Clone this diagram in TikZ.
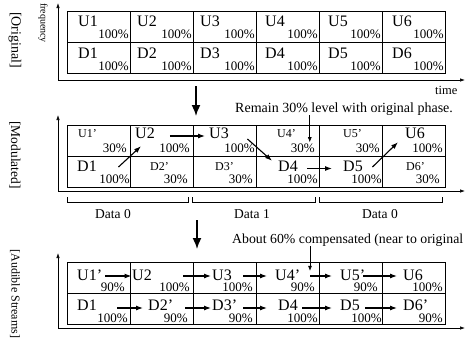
\documentclass[tikz,border=0pt]{standalone}
\usepackage{fontspec}
\setmainfont{Liberation Serif}
\usetikzlibrary{arrows.meta}
\begin{document}
\begin{tikzpicture}[x=1pt,y=-1pt,
  lbl/.style={inner sep=0pt,text height=8pt,text depth=0pt,anchor=base west,font=\fontsize{16}{16}\selectfont},
  slbl/.style={lbl,font=\fontsize{12}{12}\selectfont},
  pct/.style={inner sep=0pt,anchor=base east,font=\fontsize{13}{13}\selectfont},
  cellline/.style={line width=1pt},
  axis/.style={line width=0.7pt,{Latex[length=5pt,width=3.5pt]}-{Latex[length=5pt,width=3.5pt]}},
  arr/.style={line width=1.1pt,-{Latex[length=7pt,width=5pt]}},
  bigarr/.style={line width=1.6pt,-{Latex[length=11pt,width=9pt]}},
  note/.style={line width=0.6pt,-{Latex[length=5pt,width=4pt]}},
  txt/.style={inner sep=0pt,font=\fontsize{14}{14}\selectfont},
  side/.style={inner sep=0pt,rotate=-90,anchor=center},
  brk/.style={line width=0.6pt}]
\useasboundingbox (0,0) rectangle (466,338);

% ---------- grids ----------
\foreach \t in {11,125,262}{
  \draw[cellline] (67,\t) rectangle (445,\t+62);
  \draw[cellline] (67,\t+31) -- (445,\t+31);
  \foreach \x in {130,193,256,319,382}{\draw[cellline] (\x,\t) -- (\x,\t+62);}
}

% ---------- axes ----------
\draw[axis] (58,3) -- (58,80) -- (465,80);
\draw[axis] (58,115) -- (58,191) -- (465,191);
\draw[axis] (58,253) -- (58,328) -- (465,328);

% ---------- side labels ----------
\node[side,font=\fontsize{14}{14}\selectfont] (sOrig) at (15,40) {[Original]};
\node[side,font=\fontsize{13.5}{14}\selectfont] (sMod) at (15,155) {[Modulated]};
\node[side,font=\fontsize{12}{12}\selectfont] (sAud) at (15,294) {[Audible Streams]};
\node[side,font=\fontsize{10}{10}\selectfont] (freq) at (43,23) {frequency};
\node[inner sep=0pt,anchor=base west,font=\fontsize{12.5}{13}\selectfont] (time) at (435,94) {time};

% ---------- panel 1: original ----------
\foreach \i/\ux/\r in {1/78/129,2/137/192,3/200/255,4/265/318,5/328/381,6/392/444}{
  \node[lbl] (p1u\i) at (\ux,26) {U\i};
  \node[pct] (p1pu\i) at (\r,38) {100\%};
  \node[lbl] (p1d\i) at (\ux,58) {D\i};
  \node[pct] (p1pd\i) at (\r,70) {100\%};
}

% ---------- panel 2: modulated ----------
\node[slbl] (p2u1) at (78,137) {U1'};
\node[lbl]  (p2u2) at (135,138) {U2};
\node[lbl]  (p2u3) at (209,138) {U3};
\node[slbl] (p2u4) at (277,137) {U4'};
\node[slbl] (p2u5) at (343,137) {U5'};
\node[lbl]  (p2u6) at (405,138) {U6};
\node[pct] (p2pu1) at (127,152) {30\%};
\node[pct] (p2pu2) at (190,152) {100\%};
\node[pct] (p2pu3) at (255,152) {100\%};
\node[pct] (p2pu4) at (315,152) {30\%};
\node[pct] (p2pu5) at (380,152) {30\%};
\node[pct] (p2pu6) at (443,152) {100\%};
\node[lbl]  (p2d1) at (77,171) {D1};
\node[slbl] (p2d2) at (150,170) {D2'};
\node[slbl] (p2d3) at (215,170) {D3'};
\node[lbl]  (p2d4) at (278,171) {D4};
\node[lbl]  (p2d5) at (343,171) {D5};
\node[slbl] (p2d6) at (406,170) {D6'};
\node[pct] (p2pd1) at (130,183) {100\%};
\node[pct] (p2pd2) at (188,183) {30\%};
\node[pct] (p2pd3) at (253,183) {30\%};
\node[pct] (p2pd4) at (318,183) {100\%};
\node[pct] (p2pd5) at (382,183) {100\%};
\node[pct] (p2pd6) at (440,183) {30\%};

\draw[arr] ([xshift=21.5pt]p2d1.east) -- ([xshift=6pt,yshift=-8pt]p2u2.south west);
\draw[arr] ([xshift=15pt,yshift=-2pt]p2u2.east) -- ([xshift=-4pt,yshift=-2pt]p2u3.west);
\draw[arr] ([xshift=18.5pt,yshift=-5pt]p2u3.east) -- ([xshift=-6pt,yshift=2pt]p2d4.north west);
\draw[arr] ([xshift=9.5pt,yshift=-1.5pt]p2d4.east) -- ([xshift=-11pt,yshift=-1.5pt]p2d5.west);
\draw[arr] ([xshift=9.5pt]p2d5.east) -- ([xshift=-7pt,yshift=-4pt]p2u6.south west);

% brackets and data labels
\draw[brk] (67,197) -- (67,202) -- (188,202) -- (188,197);
\draw[brk] (192,197) -- (192,202) -- (315,202) -- (315,197);
\draw[brk] (319,197) -- (319,202) -- (442,202) -- (442,197);
\node[inner sep=0pt,anchor=base,font=\fontsize{13.5}{14}\selectfont] (data1) at (113,218) {Data 0};
\node[inner sep=0pt,anchor=base,font=\fontsize{13.5}{14}\selectfont] (data2) at (252,218) {Data 1};
\node[inner sep=0pt,anchor=base,font=\fontsize{13.5}{14}\selectfont] (data3) at (380,218) {Data 0};

% annotation 1
\node[txt,anchor=base west] (rem) at (235,112) {Remain 30\% level with original phase.};
\coordinate (t1) at ([xshift=19pt,yshift=1pt]p2pu4.north west);
\draw[note] (rem.south -| t1) -- (t1);

% ---------- panel 3: audible streams ----------
\node[lbl] (p3u1) at (77,280) {U1'};
\node[lbl] (p3u2) at (132,280) {U2};
\node[lbl] (p3u3) at (212,280) {U3};
\node[lbl] (p3u4) at (275,280) {U4'};
\node[lbl] (p3u5) at (340,280) {U5'};
\node[lbl] (p3u6) at (403,280) {U6};
\node[pct] (p3pu1) at (125,291.5) {90\%};
\node[pct] (p3pu2) at (190,291.5) {100\%};
\node[pct] (p3pu3) at (253,291.5) {100\%};
\node[pct] (p3pu4) at (315,291.5) {90\%};
\node[pct] (p3pu5) at (378,291.5) {90\%};
\node[pct] (p3pu6) at (443,291.5) {100\%};
\node[lbl] (p3d1) at (77,310) {D1};
\node[lbl] (p3d2) at (148,310) {D2'};
\node[lbl] (p3d3) at (212,310) {D3'};
\node[lbl] (p3d4) at (278,310) {D4};
\node[lbl] (p3d5) at (340,310) {D5};
\node[lbl] (p3d6) at (403,310) {D6'};
\node[pct] (p3pd1) at (128,322) {100\%};
\node[pct] (p3pd2) at (188,322) {90\%};
\node[pct] (p3pd3) at (253,322) {90\%};
\node[pct] (p3pd4) at (318,322) {100\%};
\node[pct] (p3pd5) at (382,322) {100\%};
\node[pct] (p3pd6) at (443,322) {90\%};

\draw[arr] ([xshift=3pt]p3u1.east) -- ([xshift=-0.5pt]p3u2.west);
\draw[arr] ([xshift=31.5pt]p3u2.east) -- ([xshift=-1pt]p3u3.west);
\draw[arr] ([xshift=11.5pt]p3u3.east) -- ([xshift=-8pt]p3u4.west);
\draw[arr] ([xshift=10pt]p3u4.east) -- ([xshift=-8pt]p3u5.west);
\draw[arr] ([xshift=-2pt]p3u5.east) -- ([xshift=-6pt]p3u6.west);
\draw[arr] ([xshift=20.5pt,yshift=-2pt]p3d1.east) -- ([xshift=-5pt,yshift=-2pt]p3d2.west);
\draw[arr] ([xshift=12pt,yshift=-2pt]p3d2.east) -- ([xshift=-1pt,yshift=-2pt]p3d3.west);
\draw[arr] ([xshift=6pt,yshift=-2pt]p3d3.east) -- ([xshift=-11pt,yshift=-2pt]p3d4.west);
\draw[arr] ([xshift=4.5pt,yshift=-2pt]p3d4.east) -- ([xshift=-8pt,yshift=-2pt]p3d5.west);
\draw[arr] ([xshift=5.5pt,yshift=-2pt]p3d5.east) -- ([xshift=-6pt,yshift=-2pt]p3d6.west);

% annotation 2
\node[inner sep=0pt,anchor=base west,font=\fontsize{13.8}{14}\selectfont] (abt) at (232,243) {About 60\% compensated (near to original};
\coordinate (t2) at ([xshift=35pt,yshift=1pt]p3u4.north west);
\draw[note] (abt.south -| t2) -- (t2);

% ---------- big down arrows ----------
\coordinate (b1s) at (196,86);
\coordinate (b1e) at (196,116);
\draw[bigarr] (b1s) -- (b1e);
\coordinate (b2s) at (197,220);
\coordinate (b2e) at (197,249);
\draw[bigarr] (b2s) -- (b2e);
\end{tikzpicture}
\end{document}
